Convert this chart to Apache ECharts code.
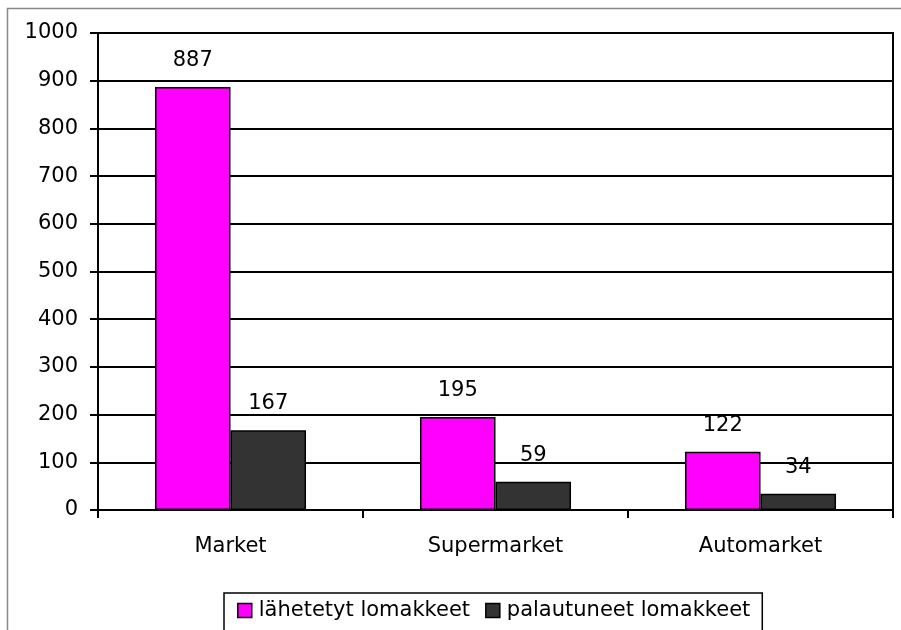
<!DOCTYPE html>
<html>
<head>
<meta charset="utf-8">
<script src="https://cdn.jsdelivr.net/npm/echarts@6/dist/echarts.min.js"></script>
<style>
  html, body { margin: 0; padding: 0; background: #fff; }
  #chart { width: 901px; height: 630px; }
</style>
</head>
<body>
<div id="chart"></div>
<script>
const categories = ['Market', 'Supermarket', 'Automarket'];
const sentForms = [887, 195, 122];
const returnedForms = [167, 59, 34];
const seriesNames = ['lähetetyt lomakkeet', 'palautuneet lomakkeet'];

const myChart = echarts.init(document.getElementById('chart'));
const font = 'DejaVu Sans, Liberation Sans, sans-serif';

const labelStyle = {
  show: true,
  position: 'top',
  distance: 16,
  color: '#000',
  fontSize: 21,
  fontFamily: font
};

const option = {
  animation: false,
  backgroundColor: '#fff',
  graphic: [
    {
      type: 'rect',
      shape: { x: 7.5, y: 8.5, width: 1000, height: 1000 },
      style: { fill: 'none', stroke: '#888', lineWidth: 1.5 },
      z: -1
    }
  ],
  grid: {
    left: 98,
    right: 8,
    top: 33,
    bottom: 120,
    show: true,
    borderColor: '#000',
    borderWidth: 2
  },
  legend: {
    top: 593,
    left: 224,
    itemWidth: 14,
    itemHeight: 14,
    itemGap: 15,
    padding: [7, 12, 20, 13],
    borderColor: '#000',
    borderWidth: 1.5,
    backgroundColor: '#fff',
    icon: 'rect',
    itemStyle: { borderColor: '#000', borderWidth: 1.5 },
    textStyle: { fontSize: 21, fontFamily: font, color: '#000', padding: [0, 0, 0, 2] },
    data: seriesNames
  },
  xAxis: {
    type: 'category',
    data: categories,
    axisLine: { lineStyle: { color: '#000', width: 2 } },
    axisTick: { show: true, length: 8, lineStyle: { color: '#000', width: 2 } },
    axisLabel: { margin: 26, fontSize: 21, fontFamily: font, color: '#000' }
  },
  yAxis: {
    type: 'value',
    min: 0,
    max: 1000,
    interval: 100,
    axisLine: { show: true, lineStyle: { color: '#000', width: 2 } },
    axisTick: { show: true, length: 8, lineStyle: { color: '#000', width: 2 } },
    axisLabel: {
      margin: 20,
      fontSize: 21,
      fontFamily: font,
      color: '#000',
      formatter: function (v) { return String(v); }
    },
    splitLine: { show: true, lineStyle: { color: '#000', width: 2 } }
  },
  series: [
    {
      name: seriesNames[0],
      type: 'bar',
      data: sentForms,
      barGap: '0%',
      barCategoryGap: '43%',
      itemStyle: { color: '#ff00ff', borderColor: '#000', borderWidth: 1.5 },
      label: labelStyle
    },
    {
      name: seriesNames[1],
      type: 'bar',
      data: returnedForms,
      itemStyle: { color: '#333333', borderColor: '#000', borderWidth: 1.5 },
      label: labelStyle
    }
  ]
};

myChart.setOption(option);
window.addEventListener('resize', myChart.resize);
</script>
</body>
</html>
